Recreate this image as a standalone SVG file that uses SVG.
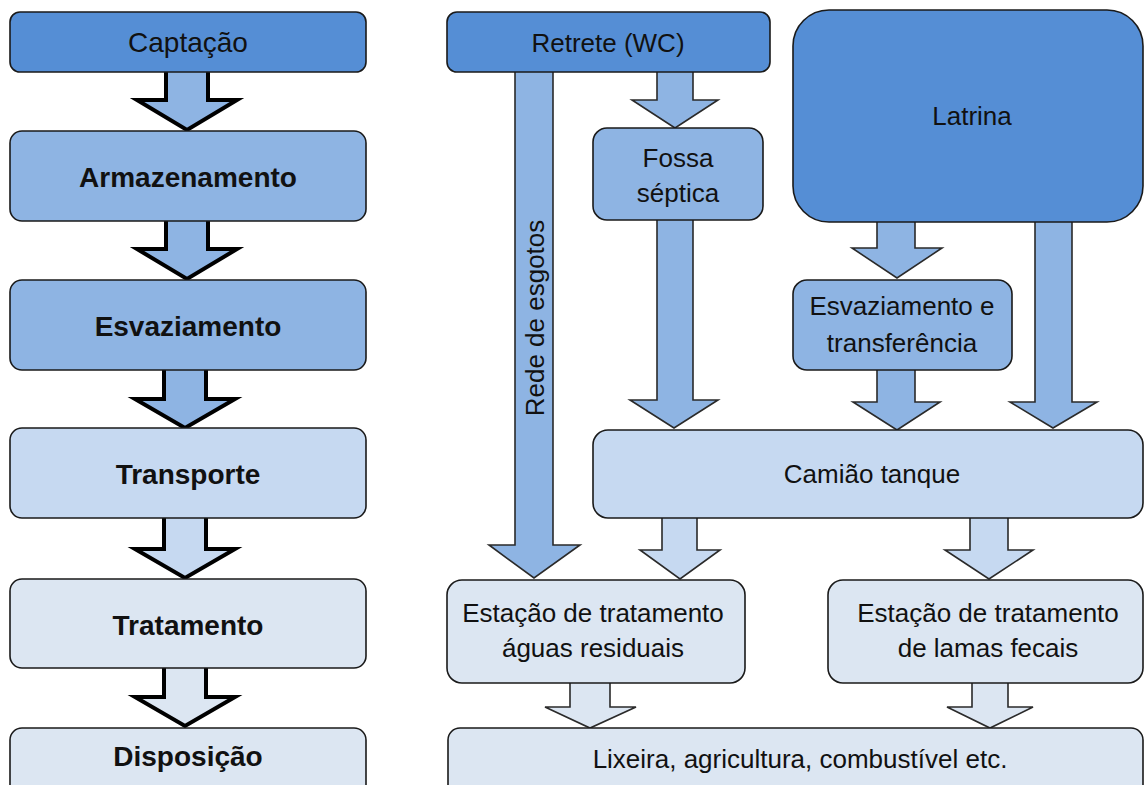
<svg xmlns="http://www.w3.org/2000/svg" width="1146" height="785" viewBox="0 0 1146 785">
<style>
.box{stroke:#1a1a1a;stroke-width:1.6}
.dk{fill:#558ed5}
.md{fill:#8eb4e3}
.lt{fill:#c6d9f1}
.xl{fill:#dce6f2}
.fat{stroke:#000;stroke-width:4;stroke-linejoin:miter;stroke-miterlimit:4}
.thin{stroke:#2a2a2a;stroke-width:1.6;stroke-linejoin:miter}
text{font-family:"Liberation Sans",Arial,sans-serif;fill:#111;text-anchor:middle}
.b{font-weight:bold;font-size:28px}
.r{font-size:26px}
</style>
<rect width="1146" height="785" fill="#fff"/>
<g id="connectors">
<path class="fat md" d="M166,70 L166,100 L137,100 L187,130 L237,100 L208,100 L208,70"/>
<path class="fat md" d="M166,219 L166,249 L137,249 L187,279 L237,249 L208,249 L208,219"/>
<path class="fat md" d="M164,368 L164,399 L135,399 L185,428 L235,399 L206,399 L206,368"/>
<path class="fat lt" d="M164,516 L164,549 L135,549 L185,578 L235,549 L206,549 L206,516"/>
<path class="fat xl" d="M164,666 L164,697 L135,697 L185,726 L235,697 L206,697 L206,666"/>
<path class="thin md" d="M515,72 L515,545 L489,545 L534,578 L580,545 L553,545 L553,72"/>
<path class="thin md" d="M657,72 L657,100 L632,100 L675,128 L718,100 L693,100 L693,72"/>
<path class="thin md" d="M657,220 L657,400 L630,400 L674,428 L718,400 L693,400 L693,220"/>
<path class="thin md" d="M877,222 L877,248 L852,248 L897,278 L942,248 L915,248 L915,222"/>
<path class="thin md" d="M1035,222 L1035,402 L1010,402 L1053,428 L1097,402 L1072,402 L1072,222"/>
<path class="thin md" d="M877,370 L877,402 L853,402 L897,430 L940,402 L915,402 L915,370"/>
<path class="thin lt" d="M662,518 L662,550 L640,550 L680,579 L720,550 L697,550 L697,518"/>
<path class="thin lt" d="M970,518 L970,550 L945,550 L989,579 L1033,550 L1008,550 L1008,518"/>
<path class="thin xl" d="M570,683 L570,707 L545,707 L590,728 L636,707 L610,707 L610,683"/>
<path class="thin xl" d="M972,683 L972,707 L947,707 L990,728 L1033,707 L1008,707 L1008,683"/>
</g>
<g id="captacao"><rect class="box dk" x="10" y="12" width="356" height="60" rx="10"/><text class="r" style="font-size:28px" x="188" y="52">Captação</text></g>
<g id="armazenamento"><rect class="box md" x="10" y="131" width="356" height="90" rx="12"/><text class="b" x="188" y="187">Armazenamento</text></g>
<g id="esvaziamento"><rect class="box md" x="10" y="280" width="356" height="90" rx="12"/><text class="b" x="188" y="336">Esvaziamento</text></g>
<g id="transporte"><rect class="box lt" x="10" y="428" width="356" height="90" rx="12"/><text class="b" x="188" y="484">Transporte</text></g>
<g id="tratamento"><rect class="box xl" x="10" y="579" width="356" height="89" rx="12"/><text class="b" x="188" y="635">Tratamento</text></g>
<g id="disposicao"><rect class="box xl" x="10" y="728" width="356" height="70" rx="12"/><text class="b" x="188" y="766">Disposição</text></g>
<g id="retrete"><rect class="box dk" x="447" y="12" width="323" height="60" rx="10"/><text class="r" x="608" y="52">Retrete (WC)</text></g>
<g id="rede"><text class="r" transform="translate(544,318) rotate(-90)" x="0" y="0">Rede de esgotos</text></g>
<g id="fossa"><rect class="box md" x="593" y="128" width="170" height="92" rx="14"/><text class="r" x="678" y="167">Fossa</text><text class="r" x="678" y="202">séptica</text></g>
<g id="latrina"><rect class="box dk" x="793" y="10" width="350" height="212" rx="36"/><text class="r" x="972" y="125">Latrina</text></g>
<g id="esvtransf"><rect class="box md" x="793" y="280" width="219" height="90" rx="14"/><text class="r" x="902" y="315">Esvaziamento e</text><text class="r" x="902" y="352">transferência</text></g>
<g id="camiao"><rect class="box lt" x="593" y="430" width="550" height="88" rx="15"/><text class="r" x="872" y="483">Camião tanque</text></g>
<g id="eta"><rect class="box xl" x="447" y="580" width="298" height="103" rx="15"/><text class="r" x="593" y="622">Estação de tratamento</text><text class="r" x="593" y="657">águas residuais</text></g>
<g id="etlf"><rect class="box xl" x="828" y="580" width="315" height="103" rx="15"/><text class="r" x="988" y="622">Estação de tratamento</text><text class="r" x="988" y="657">de lamas fecais</text></g>
<g id="lixeira"><rect class="box xl" x="448" y="728" width="695" height="70" rx="12"/><text class="r" x="800" y="768">Lixeira, agricultura, combustível etc.</text></g>
</svg>
